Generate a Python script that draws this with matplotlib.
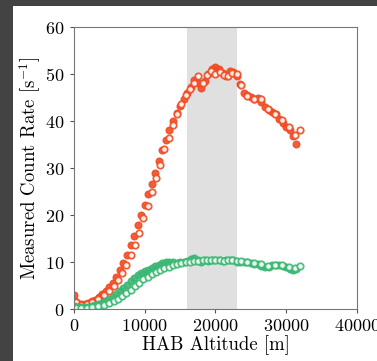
import numpy as np
import matplotlib
matplotlib.use("Agg")
import matplotlib.pyplot as plt
from matplotlib.patches import Rectangle

plt.rcParams['font.family'] = 'serif'
plt.rcParams['font.serif'] = ['cmr10', 'DejaVu Serif']
plt.rcParams['mathtext.fontset'] = 'cm'
plt.rcParams['axes.formatter.use_mathtext'] = True

# ascent (filled) and descent (open) count rates
alt_fill = [0, 200, 500, 1000, 1500, 2000, 2500, 3000, 3500, 4000, 4500, 5000,
            5500, 6000, 6500, 7000, 7500, 8000, 8500, 9000, 9500, 10000, 10500,
            11000, 11500, 12000, 12500, 13000, 13500, 14000, 14500, 15000, 15500,
            16000, 16500, 17000, 17500, 18000, 18500, 19000, 19500, 20000, 20500,
            21000, 21500, 22000, 22500, 23000, 23500, 24000, 24500, 25000, 25500,
            26000, 26500, 27000, 27500, 28000, 28500, 29000, 29500, 30000, 30500,
            31000, 31400]
red_fill = [3.0, 1.8, 1.2, 1.0, 1.1, 1.3, 1.6, 2.0, 2.5, 3.1, 3.8, 4.6, 5.6, 6.8,
            8.2, 9.8, 11.6, 13.6, 15.6, 17.8, 20.0, 22.2, 24.4, 26.6, 29.0, 31.5,
            33.8, 36.0, 38.0, 40.0, 41.8, 43.3, 44.8, 46.0, 47.2, 48.8, 48.0, 47.0,
            48.5, 50.0, 51.0, 51.5, 51.0, 50.2, 49.6, 50.6, 50.4, 49.5, 47.8, 46.0,
            45.6, 45.2, 44.8, 45.0, 44.0, 43.0, 42.3, 42.0, 41.5, 40.5, 39.6, 38.8,
            38.0, 36.8, 35.2]
green_fill = [0.6, 0.5, 0.4, 0.4, 0.4, 0.5, 0.6, 0.8, 1.0, 1.3, 1.7, 2.1, 2.6, 3.2,
              3.8, 4.5, 5.2, 5.9, 6.6, 7.2, 7.6, 8.0, 8.4, 8.8, 9.1, 9.4, 9.7, 9.9,
              10.1, 9.9, 9.8, 9.9, 10.1, 10.3, 10.6, 10.9, 10.5, 10.0, 10.4, 10.3,
              10.4, 10.5, 10.4, 10.3, 10.4, 10.5, 10.4, 10.1, 10.0, 10.0, 9.9, 9.7,
              9.6, 9.5, 9.2, 8.9, 8.9, 9.3, 9.4, 9.3, 9.1, 8.9, 8.6, 8.4, 8.6]

alt_open = [300, 1000, 1800, 2600, 3400, 4200, 5000, 5600, 6200, 6800, 7400, 8000,
            8600, 9200, 9800, 10400, 11000, 11600, 12200, 12800, 13400, 14000,
            14600, 15200, 15800, 16400, 17000, 17600, 18200, 18800, 19400, 20000,
            20600, 21200, 21800, 22400, 23000, 23600, 24400, 25400, 26400, 27400,
            28400, 29400, 30400, 31200, 32000]
red_open = [1.5, 0.9, 1.1, 1.5, 2.1, 2.9, 3.9, 5.0, 6.2, 7.6, 9.4, 11.4, 13.6, 16.2,
            19.4, 22.0, 24.8, 27.8, 30.6, 34.0, 36.4, 39.2, 41.4, 43.6, 45.6, 46.8,
            48.2, 49.6, 48.2, 49.8, 50.6, 50.0, 50.4, 49.8, 49.6, 50.2, 50.0, 47.6,
            45.4, 44.6, 44.6, 42.6, 41.6, 40.2, 38.8, 37.0, 38.0]
green_open = [0.2, 0.2, 0.3, 0.4, 0.6, 0.9, 1.3, 1.7, 2.2, 2.8, 3.4, 4.1, 4.8, 5.6,
              6.3, 6.9, 7.4, 7.9, 8.3, 8.7, 9.0, 9.3, 9.5, 9.7, 9.9, 10.1, 10.2,
              10.3, 10.4, 10.5, 10.4, 10.5, 10.4, 10.3, 10.4, 10.5, 10.3, 10.2,
              10.0, 9.8, 9.6, 9.2, 9.3, 9.3, 9.0, 8.7, 9.2]

band = (16000, 23000)

RED = '#f04c24'
GREEN = '#3cb874'

fig = plt.figure(figsize=(3.77, 3.61), dpi=100, facecolor='#434343')
fig.add_artist(Rectangle((13 / 377, 0), 1, 355 / 361, transform=fig.transFigure,
                         facecolor='white', edgecolor='none', zorder=-10))
ax = fig.add_axes([0.196, 0.144, 0.751, 0.781])

ax.axvspan(*band, color='#e0e0e0', lw=0, zorder=0)
ax.plot(alt_fill, red_fill, 'o', color=RED, ms=4.8, mec=RED, alpha=0.9)
ax.plot(alt_open, red_open, 'o', mfc='white', mec=RED, mew=1.3, ms=4.6, alpha=0.9)
ax.plot(alt_fill, green_fill, 'o', color=GREEN, ms=4.8, mec=GREEN, alpha=0.9)
ax.plot(alt_open, green_open, 'o', mfc='white', mec=GREEN, mew=1.3, ms=4.6, alpha=0.9)

ax.set_xlim(0, 40000)
ax.set_ylim(0, 60)
ax.set_xticks([0, 10000, 20000, 30000, 40000])
ax.set_yticks([0, 10, 20, 30, 40, 50, 60])
ax.tick_params(direction='out', length=3, labelsize=13, color='#555555')
for s in ax.spines.values():
    s.set_color('#777777')
ax.set_xlabel('HAB Altitude [m]', fontsize=13.5, labelpad=1)
ax.set_ylabel(r'Measured Count Rate [s$^{-1}$]', fontsize=13.5, labelpad=2)

fig.savefig('out.png', dpi=100, facecolor=fig.get_facecolor())
